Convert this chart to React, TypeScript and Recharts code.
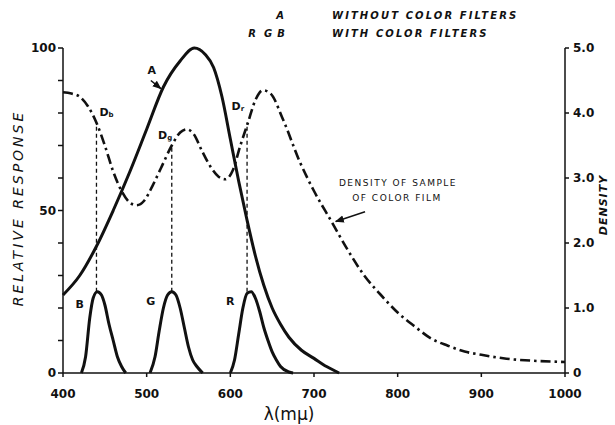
import React from "react";
import { LineChart, Line, XAxis, YAxis, ReferenceLine, ReferenceDot } from "recharts";

// wavelength (m-mu) ticks and axis ticks
const wavelengthTicks = [400, 500, 600, 700, 800, 900, 1000];
const responseTicks = [0, 10, 20, 30, 40, 50, 60, 70, 80, 90, 100];
const densityTicks = [0, 1, 2, 3, 4, 5];

// curve A: relative response without color filters, [wavelength, response]
const curveA = [
  [400, 24], [420, 30], [440, 39], [460, 50], [480, 62], [500, 75], [520, 88],
  [540, 96], [557, 100], [570, 98], [580, 94], [590, 85], [600, 72], [610, 59],
  [620, 47], [630, 36], [640, 27], [650, 20], [660, 15], [670, 11], [685, 7],
  [700, 4.5], [715, 2], [730, 0],
];

// filtered responses B, G, R
const curveB = [
  [422, 0], [427, 5], [432, 17], [436, 23], [441, 25], [446, 24], [450, 21],
  [455, 15], [460, 10], [465, 5], [470, 2], [475, 0],
];
const curveG = [
  [504, 0], [510, 5], [515, 13], [520, 20], [525, 24], [530, 25], [535, 24],
  [540, 20], [545, 14], [550, 8], [555, 4], [560, 2], [567, 0],
];
const curveR = [
  [600, 0], [605, 4], [610, 12], [615, 20], [620, 24.5], [625, 25], [630, 23],
  [635, 19], [640, 14], [645, 10], [650, 6.5], [655, 4], [660, 2], [670, 0.3],
  [675, 0],
];

// density of sample of color film, [wavelength, density]
const density = [
  [400, 4.32], [410, 4.3], [420, 4.25], [430, 4.1], [440, 3.85], [450, 3.5],
  [460, 3.1], [470, 2.8], [480, 2.62], [488, 2.58], [497, 2.65], [507, 2.88],
  [517, 3.15], [530, 3.5], [540, 3.7], [548, 3.75], [556, 3.68], [566, 3.42],
  [576, 3.18], [586, 3.02], [594, 2.98], [603, 3.12], [612, 3.5], [621, 3.85],
  [630, 4.2], [639, 4.35], [648, 4.3], [663, 3.9], [683, 3.25], [700, 2.8],
  [720, 2.35], [740, 1.9], [760, 1.5], [780, 1.2], [800, 0.93], [820, 0.72],
  [840, 0.53], [860, 0.42], [880, 0.33], [900, 0.28], [930, 0.22], [960, 0.19],
  [1000, 0.17],
];

// dashed drop lines: wavelength, filter peak, response where they meet the density curve
const dropLines = [
  [440, 25, 77],
  [530, 25, 70],
  [620, 25, 77],
];

// labels placed in data space (wavelength, response)
const curveLabels = [
  { text: "A", x: 506, y: 93 },
  { text: "D", sub: "b", x: 452, y: 80 },
  { text: "D", sub: "g", x: 522, y: 73 },
  { text: "D", sub: "r", x: 609, y: 82 },
  { text: "B", x: 420, y: 21 },
  { text: "G", x: 505, y: 22 },
  { text: "R", x: 600, y: 22 },
];

const toPoints = (arr: number[][]) => arr.map(([x, y]) => ({ x, y }));

const ink = "#111";
const hand = "'DejaVu Sans', sans-serif";

function CurveLabel(props: any) {
  const { viewBox, text, sub } = props;
  const x = viewBox.x ?? viewBox.cx;
  const y = viewBox.y ?? viewBox.cy;
  return (
    <text x={x} y={y} fontFamily={hand} fontSize={11} fontWeight="bold" fill={ink} textAnchor="middle" dominantBaseline="middle">
      {text}
      {sub && <tspan fontSize={7} dy={2}>{sub}</tspan>}
    </text>
  );
}

export default function App() {
  return (
    <div style={{ position: "absolute", left: 0, top: 0, width: 615, height: 425, background: "#fff" }}>
      <LineChart width={615} height={425} margin={{ top: 48, right: 0, bottom: 0, left: 0 }}>
        <defs>
          <marker id="arrow" viewBox="0 0 10 10" refX="9" refY="5" markerWidth="6" markerHeight="6" orient="auto">
            <path d="M0,1 L10,5 L0,9 z" fill={ink} />
          </marker>
        </defs>
        <XAxis
          dataKey="x"
          type="number"
          domain={[400, 1000]}
          ticks={wavelengthTicks}
          height={52}
          allowDuplicatedCategory={false}
          stroke={ink}
          strokeWidth={1.5}
          tickSize={4}
          tickMargin={12}
          tick={{ fill: ink, fontSize: 12, fontFamily: hand, fontWeight: "bold" }}
        />
        <YAxis
          yAxisId="left"
          dataKey="y"
          type="number"
          domain={[0, 100]}
          ticks={responseTicks}
          width={63}
          stroke={ink}
          strokeWidth={1.5}
          tickSize={5}
          tickMargin={2}
          tickFormatter={(v: number) => (v % 50 === 0 ? String(v) : "")}
          tick={{ fill: ink, fontSize: 12, fontFamily: hand, fontWeight: "bold" }}
        />
        <YAxis
          yAxisId="right"
          orientation="right"
          dataKey="y"
          type="number"
          domain={[0, 5]}
          ticks={densityTicks}
          width={50}
          stroke={ink}
          strokeWidth={1.5}
          tickSize={4}
          tickMargin={4}
          tickFormatter={(v: number) => (v === 0 ? "0" : v.toFixed(1))}
          tick={{ fill: ink, fontSize: 12, fontFamily: hand, fontWeight: "bold" }}
        />

        {dropLines.map(([x, y0, y1]) => (
          <ReferenceLine
            key={x}
            yAxisId="left"
            segment={[{ x, y: y0 }, { x, y: y1 }]}
            stroke={ink}
            strokeWidth={1.3}
            strokeDasharray="4 3"
          />
        ))}

        <Line yAxisId="left" data={toPoints(curveA)} dataKey="y" type="monotone" stroke={ink} strokeWidth={3} dot={false} isAnimationActive={false} />
        <Line yAxisId="left" data={toPoints(curveB)} dataKey="y" type="monotone" stroke={ink} strokeWidth={3} dot={false} isAnimationActive={false} />
        <Line yAxisId="left" data={toPoints(curveG)} dataKey="y" type="monotone" stroke={ink} strokeWidth={3} dot={false} isAnimationActive={false} />
        <Line yAxisId="left" data={toPoints(curveR)} dataKey="y" type="monotone" stroke={ink} strokeWidth={3} dot={false} isAnimationActive={false} />
        <Line yAxisId="right" data={toPoints(density)} dataKey="y" type="monotone" stroke={ink} strokeWidth={2.6} strokeDasharray="10 4 2.5 4" dot={false} isAnimationActive={false} />

        {curveLabels.map((l) => (
          <ReferenceDot
            key={l.text + (l.sub ?? "") + l.x}
            yAxisId="left"
            x={l.x}
            y={l.y}
            r={0}
            stroke="none"
            label={<CurveLabel text={l.text} sub={l.sub} />}
          />
        ))}

        {/* arrow pointing at curve A */}
        <ReferenceLine yAxisId="left" segment={[{ x: 505, y: 90 }, { x: 517, y: 87.5 }]} stroke={ink} strokeWidth={1.5} markerEnd="url(#arrow)" />
        {/* arrow pointing at the density curve */}
        <ReferenceLine yAxisId="right" segment={[{ x: 761, y: 2.48 }, { x: 726, y: 2.33 }]} stroke={ink} strokeWidth={1.5} markerEnd="url(#arrow)" />

        <text x={398} y={186} textAnchor="middle" fontFamily={hand} fontSize={9} letterSpacing={1.5} fill={ink}>DENSITY OF SAMPLE</text>
        <text x={397} y={201} textAnchor="middle" fontFamily={hand} fontSize={9} letterSpacing={1.5} fill={ink}>OF COLOR FILM</text>

        <g fontFamily={hand} fontSize={10} fontStyle="italic" fontWeight="bold" fill={ink}>
          <text x={280} y={19} textAnchor="middle">A</text>
          <text x={332} y={19} letterSpacing={2.1}>WITHOUT COLOR FILTERS</text>
          <text x={252} y={37} textAnchor="middle">R</text>
          <text x={268} y={37} textAnchor="middle">G</text>
          <text x={281} y={37} textAnchor="middle">B</text>
          <text x={332} y={37} letterSpacing={2.1}>WITH COLOR FILTERS</text>
        </g>

        <text x={19} y={208} transform="rotate(-90 19 208)" textAnchor="middle" dominantBaseline="middle" fontFamily={hand} fontSize={14} fontStyle="italic" letterSpacing={3} fill={ink}>RELATIVE RESPONSE</text>
        <text x={604} y={205} transform="rotate(-90 604 205)" textAnchor="middle" dominantBaseline="middle" fontFamily={hand} fontSize={11} fontStyle="italic" fontWeight="bold" letterSpacing={1} fill={ink}>DENSITY</text>
        <text x={289} y={420} textAnchor="middle" fontFamily={hand} fontSize={17} fill={ink}>λ(mμ)</text>
      </LineChart>
    </div>
  );
}
